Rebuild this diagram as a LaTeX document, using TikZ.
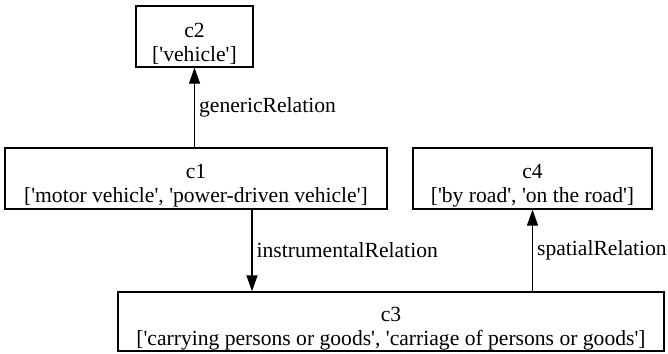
\documentclass[tikz,border=0pt]{standalone}
\usepackage{fontspec}
\setmainfont{Liberation Serif}[Ligatures=TeXOff]
\usepackage{tikz}
\usetikzlibrary{arrows.meta, positioning}
\newcommand{\conceptlines}[2]{\rule{0pt}{28pt}#1\\{}#2}

\begin{document}
\begin{tikzpicture}[
    x=1pt, y=-1pt,
    concept/.style={draw, line width=1.3pt, inner sep=0pt, align=center, font=\fontsize{21.6}{24}\selectfont},
    arrow/.style={-{Triangle[length=16pt, width=11pt]}, line width=1.3pt},
    rel/.style={right, inner sep=4pt, font=\fontsize{21.6}{24}\selectfont}
]
    \useasboundingbox (0,0) rectangle (668,353);
    % Nodes
    \node[concept, minimum width=117pt, minimum height=61pt] (c2) at (194.5,36.5) {\conceptlines{c2}{['vehicle']}};
    \node[concept, minimum width=382pt, minimum height=61pt] (c1) at (196,178.5) {\conceptlines{c1}{['motor vehicle', 'power-driven vehicle']}};
    \node[concept, minimum width=239pt, minimum height=61pt] (c4) at (532.5,178.5) {\conceptlines{c4}{['by road', 'on the road']}};
    \node[concept, minimum width=546pt, minimum height=59pt] (c3) at (391,321.5) {\conceptlines{c3}{['carrying persons or goods', 'carriage of persons or goods']}};

    % Arrows
    \draw[arrow] (c1.north -| c2.south) -- (c2.south) node[rel, midway] {genericRelation};
    \draw[arrow] ([xshift=56pt]c1.south) -- ([xshift=56pt]c1.south |- c3.north) node[rel, midway] {instrumentalRelation};
    \draw[arrow] (c3.north -| c4.south) -- (c4.south) node[rel, midway] {spatialRelation};
\end{tikzpicture}
\end{document}
